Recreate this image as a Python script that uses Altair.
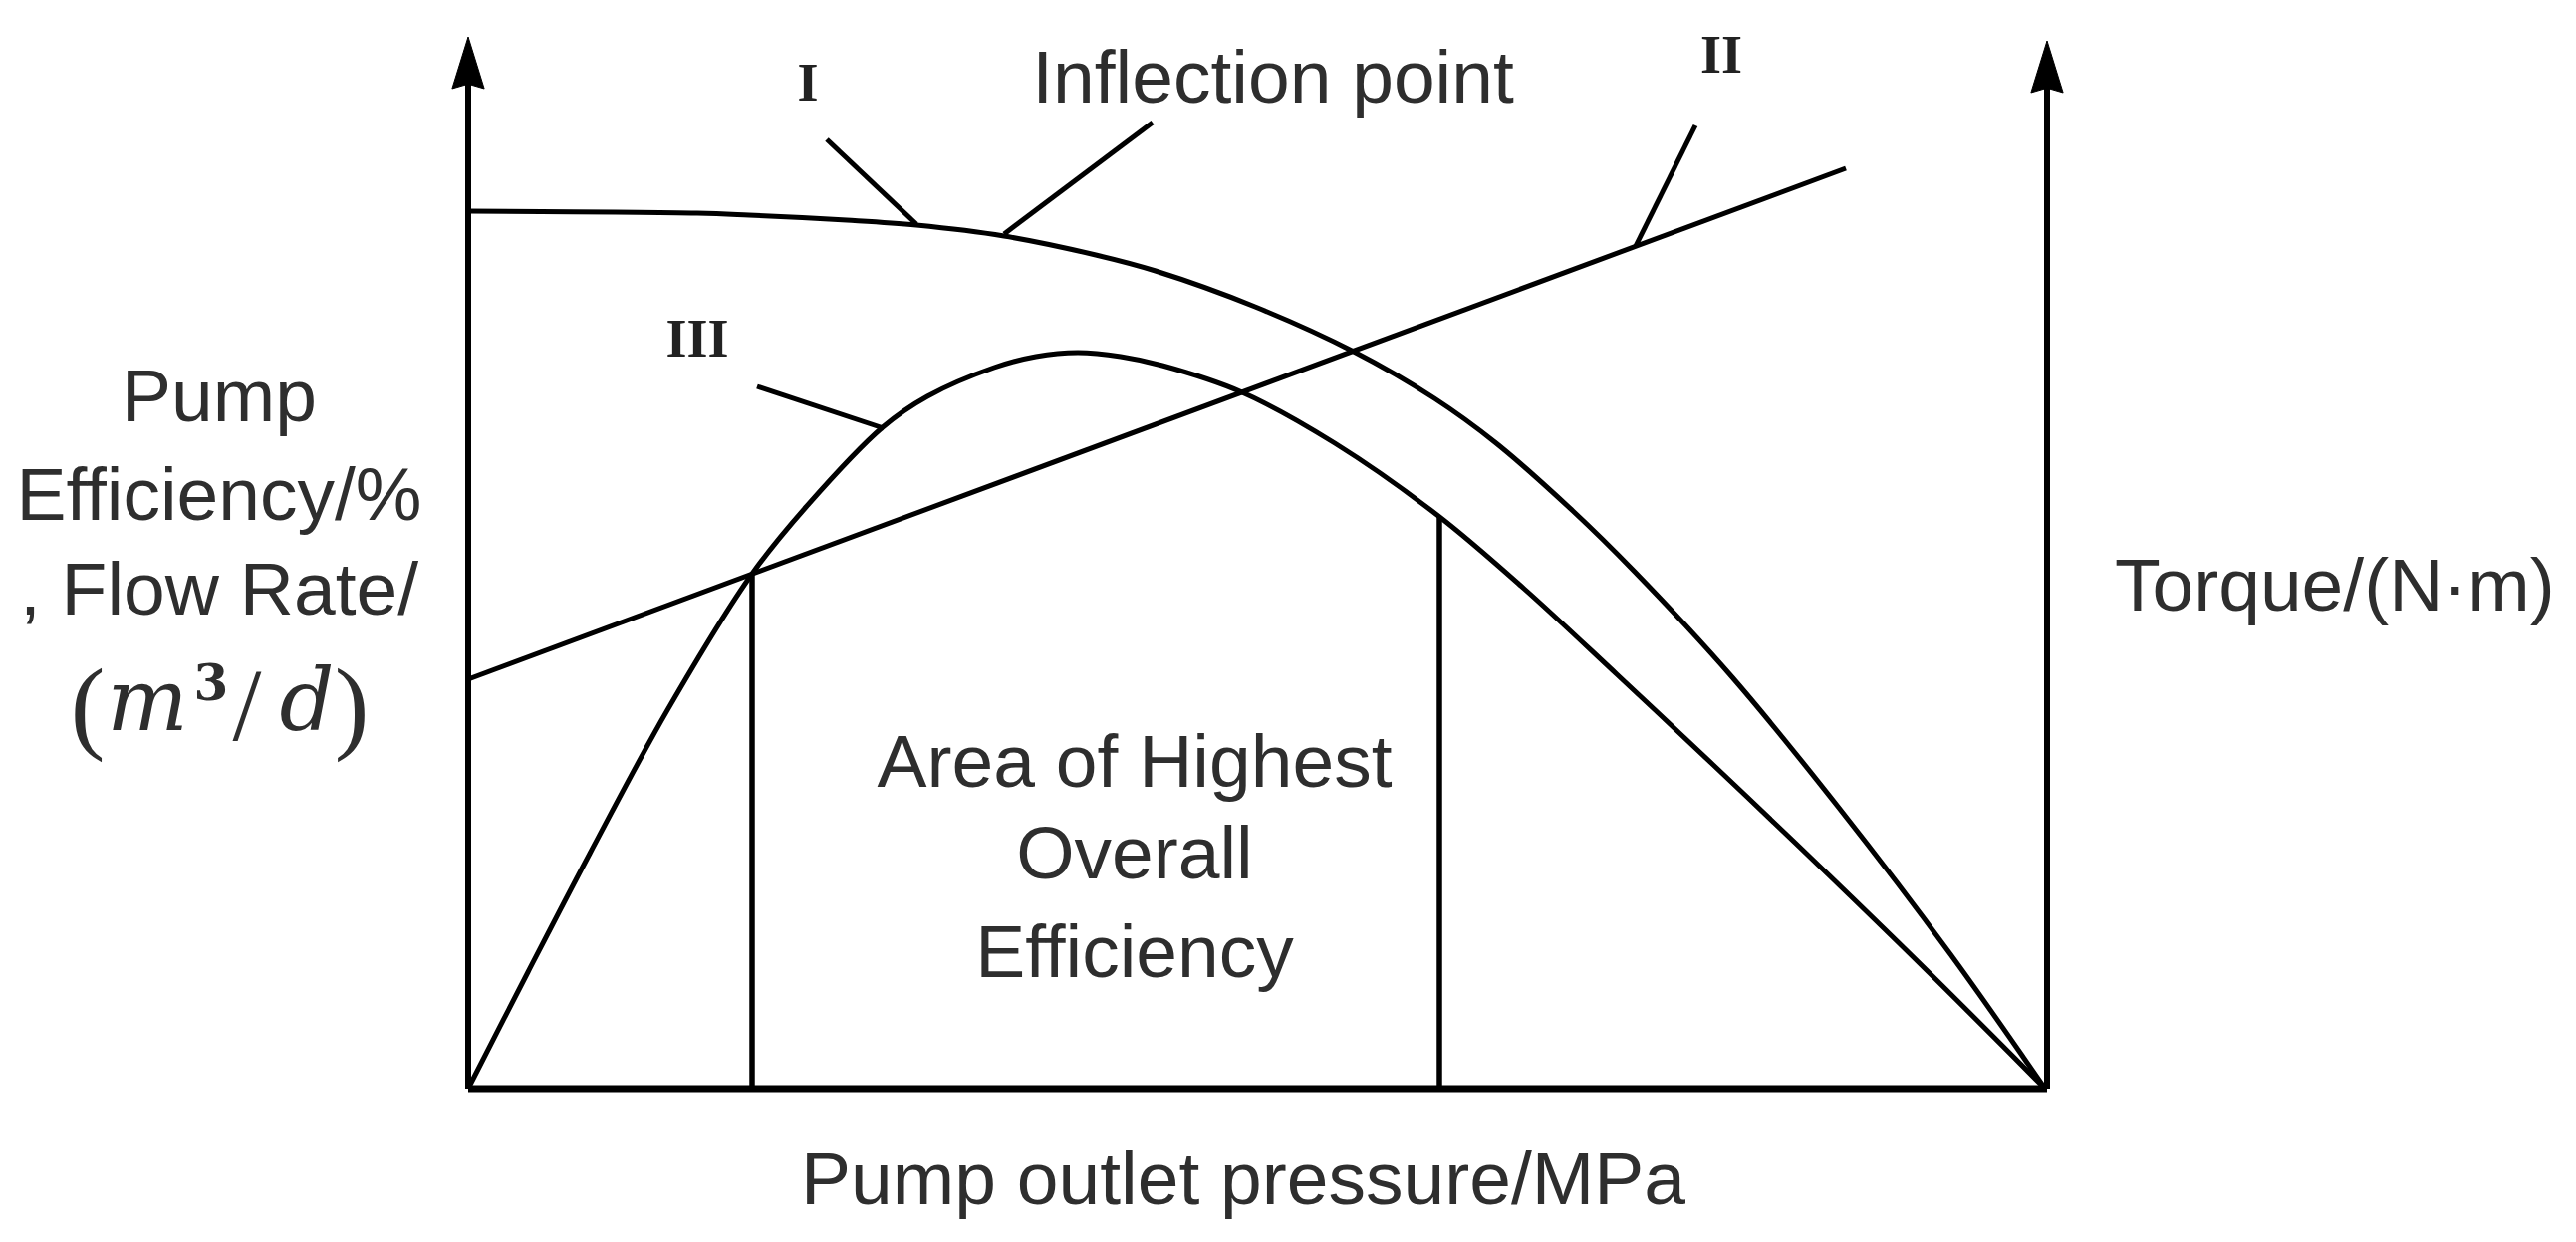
import altair as alt
import pandas as pd

# ---- curve data (x: pump outlet pressure, arbitrary units; y: arbitrary units) ----
curve1_x = [0, 230, 282, 380, 450, 538, 630, 690, 790, 889, 970, 1032, 1109, 1171, 1269, 1376, 1488, 1583]
curve1_y = [881, 879, 877, 872, 867, 856, 837, 821, 785, 740, 693, 648, 580, 519, 413, 282, 135, 0]

curve2_x = [0, 1383]
curve2_y = [411, 924]

curve3_x = [0, 60, 122, 200, 285, 340, 416, 461, 528, 570, 612, 655, 697, 777, 870, 974, 1060, 1153, 1250, 1332, 1466, 1583]
curve3_y = [0, 117, 236, 380, 517, 585, 664, 695, 724, 735, 739, 735, 726, 699, 648, 575, 502, 416, 325, 247, 117, 0]

# boundaries of the highest overall efficiency area
bound_x = [285, 975]
bound_top = [517, 575]

# leader lines: (x, y) -> (x2, y2)
lead_x = [360, 687, 1232, 290]
lead_y = [953, 970, 967, 705]
lead_x2 = [450, 538, 1172, 417]
lead_y2 = [868, 858, 846, 663]

roman_labels = ["I", "II", "III"]
roman_x = [341, 1258, 230]
roman_y = [1008, 1036, 751]

X_MAX = 1585
Y_MAX = 1056

W, H = 1585, 1056

xs = alt.Scale(domain=[0, X_MAX], nice=False, zero=False)
ys = alt.Scale(domain=[0, Y_MAX], nice=False, zero=False)

def X(field="x"):
    return alt.X(f"{field}:Q", scale=xs, axis=None)

def Y(field="y"):
    return alt.Y(f"{field}:Q", scale=ys, axis=None)

rows = []
for name, cx, cy in [("I", curve1_x, curve1_y), ("II", curve2_x, curve2_y), ("III", curve3_x, curve3_y)]:
    for i, (a, b) in enumerate(zip(cx, cy)):
        rows.append({"curve": name, "x": a, "y": b, "i": i})
curves_df = pd.DataFrame(rows)

curves = alt.Chart(curves_df).mark_line(
    interpolate="catmull-rom", color="black", strokeWidth=5
).encode(x=X(), y=Y(), detail="curve:N", order="i:Q")

# axes
axes_df = pd.DataFrame({
    "x": [0, X_MAX], "y": [0, 0], "x2": [0, X_MAX], "y2": [1015, 1005]
})
axes = alt.Chart(axes_df).mark_rule(color="black", strokeWidth=6).encode(
    x=X(), y=Y(), x2="x2:Q", y2="y2:Q")

bottom_df = pd.DataFrame({"x": [0], "y": [0], "x2": [X_MAX], "y2": [0]})
bottom = alt.Chart(bottom_df).mark_rule(color="black", strokeWidth=7).encode(
    x=X(), y=Y(), x2="x2:Q", y2="y2:Q")

bounds_df = pd.DataFrame({"x": bound_x, "y": [0, 0], "x2": bound_x, "y2": bound_top})
bounds = alt.Chart(bounds_df).mark_rule(color="black", strokeWidth=5.5).encode(
    x=X(), y=Y(), x2="x2:Q", y2="y2:Q")

lead_df = pd.DataFrame({"x": lead_x, "y": lead_y, "x2": lead_x2, "y2": lead_y2})
leaders = alt.Chart(lead_df).mark_rule(color="black", strokeWidth=5).encode(
    x=X(), y=Y(), x2="x2:Q", y2="y2:Q")

# arrow heads
arrow_df = pd.DataFrame({"x": [0, X_MAX], "y": [1030, 1026]})
arrows = alt.Chart(arrow_df).mark_point(
    shape="M0,-1L0.62,1L0,0.82L-0.62,1Z", filled=True, fill="black",
    stroke="black", strokeWidth=1, size=2704, opacity=1
).encode(x=X(), y=Y())

# roman numeral labels
roman_df = pd.DataFrame({"x": roman_x, "y": roman_y, "t": roman_labels})
romans = alt.Chart(roman_df).mark_text(
    font="Liberation Serif", fontWeight="bold", fontSize=54, color="#222222",
    align="center", baseline="middle"
).encode(x=X(), y=Y(), text="t:N")

# sans-serif labels
TXT = "#2e2e2e"
sans_df = pd.DataFrame({
    "x": [808, -250, -250, -250, 1653, 778, 669, 669, 669],
    "y": [990, 670, 571, 476, 480, -116, 303, 211, 112],
    "t": ["Inflection point", "Pump", "Efficiency/%", ", Flow Rate/", "Torque/(N·m)",
          "Pump outlet pressure/MPa", "Area of Highest", "Overall", "Efficiency"],
    "a": ["center", "center", "center", "center", "left", "center", "center", "center", "center"],
})
sans_c = alt.Chart(sans_df[sans_df.a == "center"]).mark_text(
    font="Liberation Sans", fontSize=75, color=TXT, align="center", baseline="alphabetic"
).encode(x=X(), y=Y(), text="t:N")
sans_l = alt.Chart(sans_df[sans_df.a == "left"]).mark_text(
    font="Liberation Sans", fontSize=75, color=TXT, align="left", baseline="alphabetic"
).encode(x=X(), y=Y(), text="t:N")

# math unit (m^3/d)
paren_df = pd.DataFrame({"x": [-382, -222, -117], "y": [350, 350, 350], "t": ["(", "/", ")"]})
parens = alt.Chart(paren_df).mark_text(
    font="Liberation Serif", fontSize=104, color=TXT, align="center", baseline="alphabetic"
).encode(x=X(), y=Y(), text="t:N")
ital_df = pd.DataFrame({"x": [-322, -162], "y": [360, 360], "t": ["m", "d"]})
ital = alt.Chart(ital_df).mark_text(
    font="DejaVu Serif", fontStyle="italic", fontSize=86, color=TXT, align="center",
    baseline="alphabetic"
).encode(x=X(), y=Y(), text="t:N")
sup_df = pd.DataFrame({"x": [-258], "y": [390], "t": ["3"]})
sup = alt.Chart(sup_df).mark_text(
    font="DejaVu Serif", fontWeight="bold", fontSize=50, color=TXT, align="center",
    baseline="alphabetic"
).encode(x=X(), y=Y(), text="t:N")

chart = alt.layer(
    curves, bounds, leaders, axes, bottom, arrows, romans, sans_c, sans_l, parens, ital, sup
).properties(
    width=W, height=H,
    background="white",
    autosize=alt.AutoSizeParams(type="none"),
    padding={"left": 462, "top": 29, "right": 523, "bottom": 146},
).configure_view(stroke=None, strokeWidth=0)

chart.save("out.html", embed_options={"renderer": "svg", "actions": False})
